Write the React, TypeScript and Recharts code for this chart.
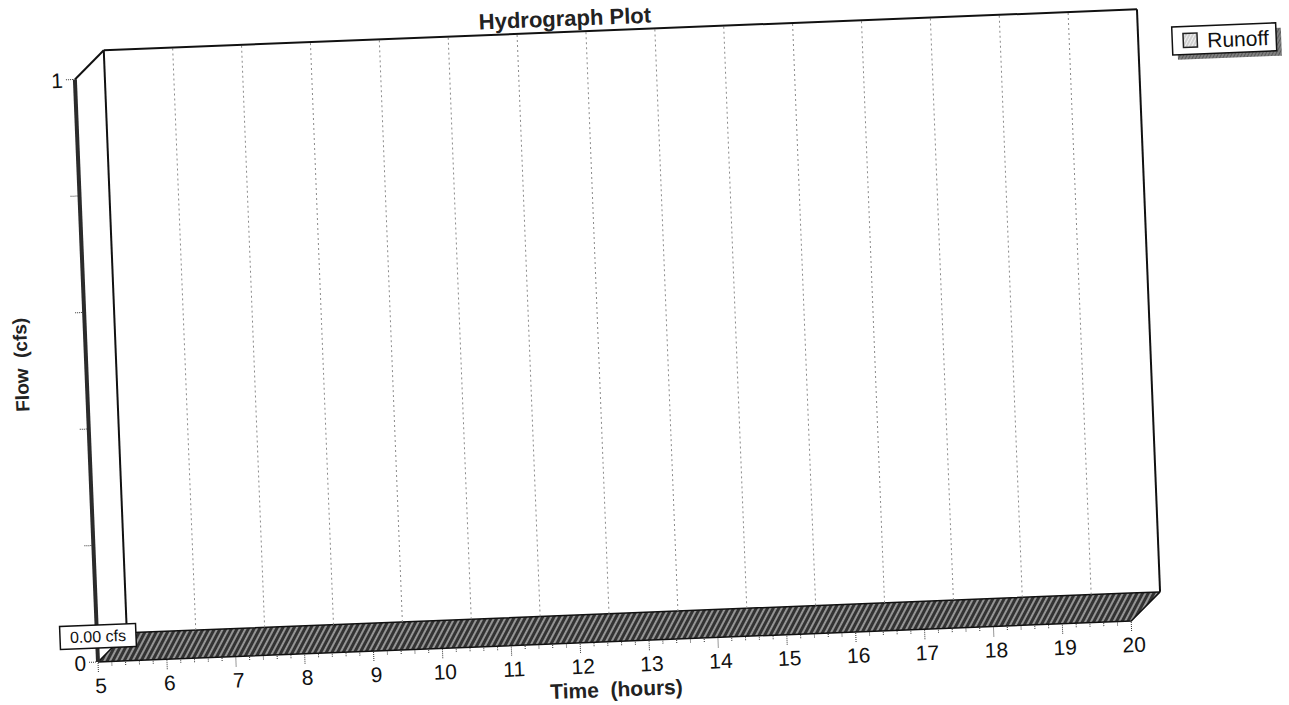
import { Area, ComposedChart, ReferenceDot, ReferenceLine, XAxis, YAxis } from "recharts";

const hours = [5, 6, 7, 8, 9, 10, 11, 12, 13, 14, 15, 16, 17, 18, 19, 20];
const runoff = [0, 0, 0, 0, 0, 0, 0, 0, 0, 0, 0, 0, 0, 0, 0, 0];
const flowTicks = [0, 0.2, 0.4, 0.6, 0.8, 1];
const flowLabels = [0, 1];
const minorSteps = [0, 0.2, 0.4, 0.6, 0.8];

const SERIES = "Runoff";
const FONT = '"Liberation Sans", Arial, sans-serif';

// depth of the fake 3D box, in data units (hours / cfs)
const DX = 0.435;
const DY = 0.048;

const W = 1320;
const H = 740;

const tMin = hours[0];
const tMax = hours[hours.length - 1];
const qMax = flowTicks[flowTicks.length - 1];

const timeTicks = hours.flatMap((h) =>
  h === tMax ? [h] : minorSteps.map((s) => Math.round((h + s) * 10) / 10)
);

// top face of the zero-height runoff ribbon
const q0 = runoff[0];
const qN = runoff[runoff.length - 1];
const floor = [
  { t: tMin, band: [q0, q0] },
  { t: tMin + DX, band: [q0, q0 + DY] },
  { t: tMax, band: [qN, qN + DY] },
  { t: tMax + DX, band: [qN + DY, qN + DY] },
];

const peak = Math.max(...runoff);
const peakAt = hours[runoff.indexOf(peak)];

function TimeTick({ x, y, payload }: any) {
  const v = payload.value;
  const major = Math.abs(v - Math.round(v)) < 1e-6;
  return (
    <g>
      <line x1={x} x2={x} y1={y + 1} y2={y + (major ? 10 : 5)} stroke="#333" strokeDasharray="1 1" />
      {major && (
        <text x={x + 2} y={y + 31} textAnchor="middle" fontSize={21} fontFamily={FONT} fill="#111">
          {v}
        </text>
      )}
    </g>
  );
}

function FlowTick({ x, y, payload }: any) {
  const v = payload.value;
  return (
    <g>
      <line x1={x - 9} x2={x - 1} y1={y} y2={y} stroke="#333" strokeDasharray="1 1" />
      {flowLabels.includes(v) && (
        <text x={x - 12} y={y + 8} textAnchor="end" fontSize={21} fontFamily={FONT} fill="#111">
          {v}
        </text>
      )}
    </g>
  );
}

function PeakBox({ cx, cy }: any) {
  return (
    <g>
      <rect x={cx - 37} y={cy - 37} width={76} height={23} fill="#fff" stroke="#111" strokeWidth={1.5} />
      <text x={cx + 1} y={cy - 20} textAnchor="middle" fontSize={16} fontFamily={FONT} fill="#111">
        {peak.toFixed(2)} cfs
      </text>
    </g>
  );
}

export default function App() {
  return (
    <div style={{ position: "fixed", left: 0, top: 0, width: 1289, height: 705, overflow: "hidden", background: "#fff" }}>
      <div
        style={{
          position: "absolute",
          left: 0,
          top: 0,
          width: W,
          height: H,
          transform: "rotate(-2.27deg)",
          transformOrigin: "98px 662px",
        }}
      >
        <ComposedChart width={W} height={H} margin={{ top: 51, right: 158, bottom: 18, left: 58 }}>
          <defs>
            <pattern id="hatch" width="5" height="5" patternUnits="userSpaceOnUse" patternTransform="rotate(30)">
              <rect width="5" height="5" fill="#333" />
              <line x1="1" y1="0" x2="1" y2="5" stroke="#e6e6e6" strokeWidth="1.1" />
            </pattern>
          </defs>
          <XAxis
            dataKey="t"
            type="number"
            domain={[tMin, tMax + DX]}
            ticks={timeTicks}
            interval={0}
            tick={(p: any) => <TimeTick {...p} />}
            axisLine={false}
            tickLine={false}
            tickSize={0}
            tickMargin={0}
            height={60}
          />
          <YAxis
            type="number"
            domain={[0, qMax + DY]}
            ticks={flowTicks}
            interval={0}
            tick={(p: any) => <FlowTick {...p} />}
            axisLine={false}
            tickLine={false}
            tickSize={0}
            tickMargin={0}
            width={40}
          />
          {hours.slice(1, -1).map((h) => (
            <ReferenceLine
              key={h}
              segment={[{ x: h + DX, y: DY }, { x: h + DX, y: qMax + DY }]}
              stroke="#8a8a8a"
              strokeDasharray="2 3"
              ifOverflow="visible"
            />
          ))}
          <ReferenceLine segment={[{ x: tMin + DX, y: DY }, { x: tMin + DX, y: qMax + DY }]} stroke="#111" strokeWidth={2} ifOverflow="visible" />
          <ReferenceLine segment={[{ x: tMin + DX, y: qMax + DY }, { x: tMax + DX, y: qMax + DY }]} stroke="#111" strokeWidth={2} ifOverflow="visible" />
          <ReferenceLine segment={[{ x: tMax + DX, y: DY }, { x: tMax + DX, y: qMax + DY }]} stroke="#111" strokeWidth={2} ifOverflow="visible" />
          <ReferenceLine segment={[{ x: tMin, y: qMax }, { x: tMin + DX, y: qMax + DY }]} stroke="#111" strokeWidth={2} ifOverflow="visible" />
          <ReferenceLine segment={[{ x: tMin, y: 0 }, { x: tMin, y: qMax }]} stroke="#2b2b2b" strokeWidth={4} ifOverflow="visible" />
          <Area
            data={floor}
            dataKey="band"
            name={SERIES}
            type="linear"
            fill="url(#hatch)"
            fillOpacity={1}
            stroke="#111"
            strokeWidth={1.5}
            dot={false}
            activeDot={false}
            isAnimationActive={false}
          />
          <ReferenceDot x={peakAt} y={peak} r={0} ifOverflow="visible" shape={(p: any) => <PeakBox {...p} />} />
        </ComposedChart>
        <svg width={W} height={H} style={{ position: "absolute", left: 0, top: 0, pointerEvents: "none" }} fontFamily={FONT}>
          <defs>
            <pattern id="swatch" width="3" height="3" patternUnits="userSpaceOnUse" patternTransform="rotate(30)">
              <rect width="3" height="3" fill="#f2f2f2" />
              <line x1="1" y1="0" x2="1" y2="3" stroke="#9a9a9a" strokeWidth="0.8" />
            </pattern>
            <pattern id="shade" width="3" height="3" patternUnits="userSpaceOnUse" patternTransform="rotate(30)">
              <rect width="3" height="3" fill="#5a5a5a" />
              <line x1="1" y1="0" x2="1" y2="3" stroke="#bdbdbd" strokeWidth="0.8" />
            </pattern>
          </defs>
          <text x={590} y={45} textAnchor="middle" fontSize={22} fontWeight="bold" fill="#222">
            Hydrograph Plot
          </text>
          <text x={615} y={717} textAnchor="middle" fontSize={21} fontWeight="bold" fill="#222" style={{ whiteSpace: "pre" }}>
            {"Time  (hours)"}
          </text>
          <text
            transform="translate(33,362) rotate(-90)"
            textAnchor="middle"
            dominantBaseline="central"
            fontSize={19}
            fontWeight="bold"
            fill="#222"
            style={{ whiteSpace: "pre" }}
          >
            {"Flow  (cfs)"}
          </text>
          <rect x={1201} y={75} width={104} height={28} fill="url(#shade)" />
          <rect x={1196} y={70} width={104} height={28} fill="#fff" stroke="#111" strokeWidth={1.5} />
          <rect x={1207} y={77} width={14} height={14} fill="url(#swatch)" stroke="#222" strokeWidth={1.5} />
          <text x={1231} y={92} fontSize={21} fill="#111">
            {SERIES}
          </text>
        </svg>
      </div>
    </div>
  );
}
